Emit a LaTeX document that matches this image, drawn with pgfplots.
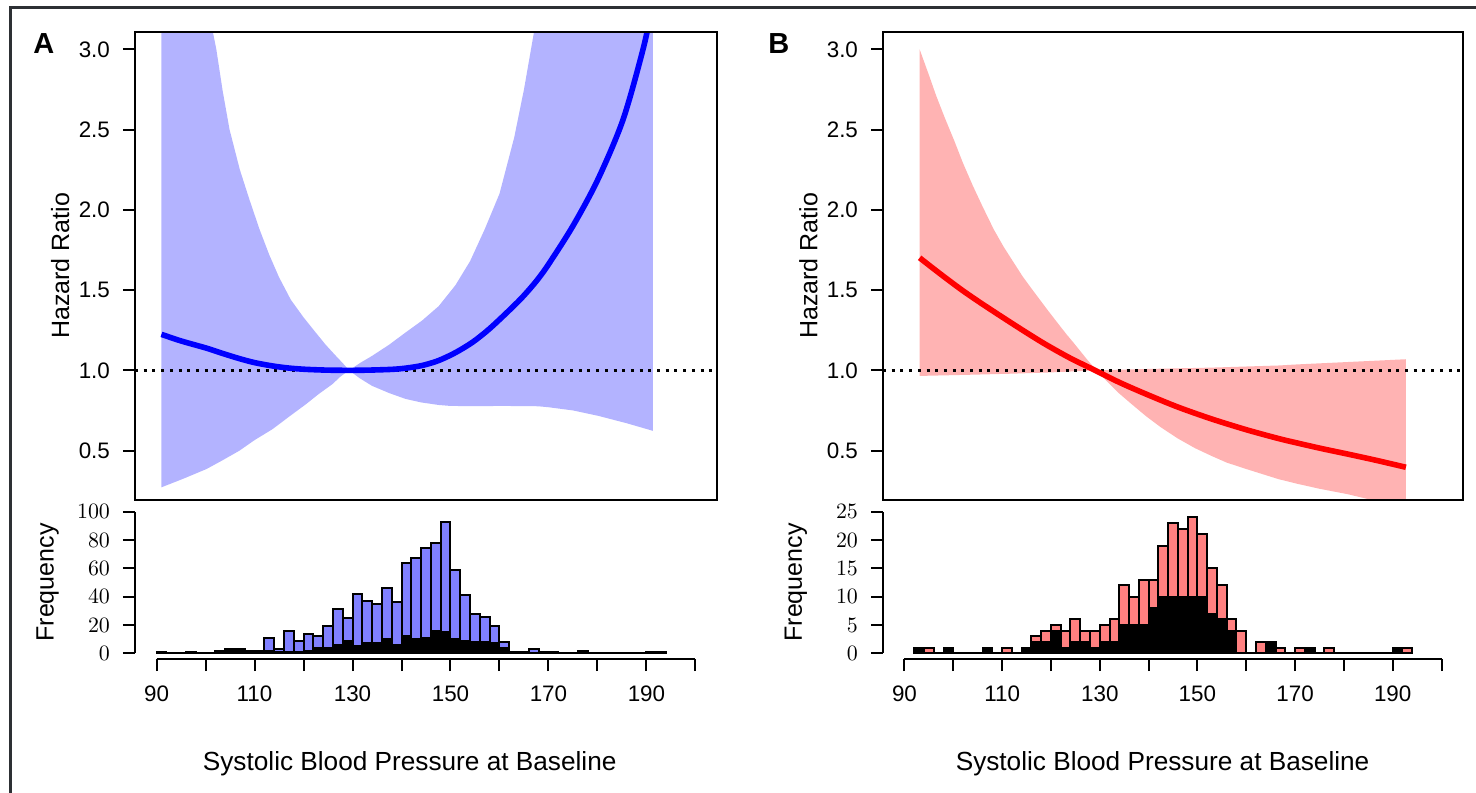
\documentclass[border=0pt]{standalone}
\usepackage{fontspec}
\setmainfont{Liberation Sans}
\usepackage{pgfplots}
\pgfplotsset{compat=1.18}
\definecolor{bandblue}{RGB}{179,179,255}
\definecolor{barblue}{RGB}{128,128,255}
\definecolor{bandred}{RGB}{255,179,179}
\definecolor{barred}{RGB}{255,128,128}
\definecolor{framegray}{RGB}{45,48,52}
\newcommand{\tickfont}{\fontsize{11.2}{13}\selectfont}
\newcommand{\labfont}{\fontsize{12.5}{15}\selectfont}
\newcommand{\xlabfont}{\fontsize{13.1}{15}\selectfont}
\pgfplotsset{
  topax/.style={
    scale only axis, width=291pt, height=234pt,
    xmin=85.6, xmax=204.4, ymin=0.192, ymax=3.108,
    xtick=\empty, ytick={0.5,1.0,1.5,2.0,2.5,3.0},
    yticklabels={0.5,1.0,1.5,2.0,2.5,3.0},
    ytick pos=left, tick align=outside, major tick length=6pt,
    axis line style={line width=1pt, black},
    tick style={line width=1pt, black},
    yticklabel style={font=\tickfont, xshift=-3pt},
    ylabel={Hazard Ratio},
    ylabel style={font=\labfont, at={(axis description cs:-0.112,0.5)}, anchor=south, inner sep=0pt},
    clip=true, axis on top,
  },
  histax/.style={
    scale only axis, width=291pt, height=76.5pt,
    xmin=85.6, xmax=204.4,
    axis line style={draw=none},
    xtick={90,100,...,200},
    xticklabels={90,,110,,130,,150,,170,,190,},
    xtick pos=bottom, ytick pos=left,
    tick align=outside, major tick length=6pt,
    tick style={line width=1pt, black},
    xticklabel style={font=\tickfont, yshift=-4pt},
    yticklabel style={font=\tickfont, xshift=-3pt},
    ylabel={Frequency},
    ylabel style={font=\labfont, at={(axis description cs:-0.14,0.5)}, anchor=base, inner sep=0pt},
    xlabel={Systolic Blood Pressure at Baseline},
    xlabel style={font=\xlabfont, at={(axis description cs:0.472,-0.73)}, anchor=base, inner sep=0pt},
    clip=false,
  },
  refline/.style={black, line width=1.5pt, line cap=butt, dash pattern=on 1.5pt off 2.85pt},
}
\begin{document}
\begin{tikzpicture}[x=1pt,y=1pt]
\useasboundingbox (0,0) rectangle (738,396);
\draw[framegray, line width=1.5pt] (5,-10) -- (5,392) -- (760,392);

% ---------------- Panel A top ----------------
\begin{axis}[topax, at={(67.5pt,146pt)}, anchor=south west]
\addplot[fill=bandblue, draw=none] coordinates {
(91,5.6) (94,4.8) (97,4.1) (100,3.45) (101.5,3.107) (102.2,3.0) (103.5,2.74) (104.9,2.5) (107,2.25)
(109,2.06) (111,1.88) (113,1.72) (115,1.58) (117.4,1.44) (120,1.33) (122.5,1.235)
(124.5,1.16) (126.6,1.09) (128,1.045) (129.3,1.0) (131.5,1.045) (134,1.09) (137.5,1.16)
(140.8,1.235) (144.2,1.31) (147.6,1.40) (151,1.53) (154,1.68) (157,1.88) (160,2.1)
(163,2.45) (165,2.75) (167,3.1) (169,3.5) (172,4.2) (180,6.0) (191.3,9.0)
(191.3,0.623) (186,0.67) (180.2,0.716) (175,0.75) (170,0.77) (167.9,0.776) (161.1,0.778)
(154.4,0.777) (150,0.778) (147.6,0.784) (144,0.80) (140.8,0.822) (137.5,0.858) (134,0.903) (131.5,0.95)
(129.3,1.0) (127.5,0.96) (125.9,0.914) (123,0.85) (120.5,0.789) (117,0.71) (113.7,0.634)
(110,0.565) (106.9,0.499) (103.5,0.44) (100.2,0.385) (95.5,0.325) (91,0.271)
} -- cycle;
\addplot[refline] coordinates {(85.6,1) (204.4,1)};
\addplot[blue, line width=2.8pt, smooth, tension=0.5] coordinates {
(91.0,1.224) (95,1.183) (100.2,1.138) (103.5,1.105) (106.9,1.073) (110,1.048) (113.7,1.027)
(117,1.014) (120.5,1.006) (125,1.001) (129.3,1.0) (133,1.001) (138.1,1.006) (141,1.014)
(144.2,1.03) (147.5,1.06) (151,1.11) (154.5,1.175) (157.7,1.252) (161,1.345) (164.5,1.45)
(167.5,1.555) (170,1.66) (175,1.9) (180.1,2.19) (185.2,2.56) (189.3,3.0) (191.3,3.28)
};
\end{axis}

% ---------------- Panel B top ----------------
\begin{axis}[topax, at={(441.5pt,146pt)}, anchor=south west, width=290pt]
\addplot[fill=bandred, draw=none] coordinates {
(93.1,3.0) (95,2.84) (96.5,2.71) (98.3,2.57) (100.2,2.43) (102,2.29) (104,2.15) (106,2.02) (108.3,1.877)
(110.3,1.77) (112.4,1.67) (114.2,1.585) (116,1.51) (117.6,1.445)
(119.2,1.38) (120.6,1.325) (122,1.27) (123.3,1.22) (124.6,1.173) (126,1.12) (127.6,1.06) (129.3,1.0)
(134,1.004) (139.4,1.008) (153,1.017) (166.6,1.03) (170.6,1.037) (181,1.052) (192.7,1.069)
(192.7,0.15) (186,0.19) (180.8,0.228) (175,0.262) (170.6,0.292) (166.6,0.322) (160,0.385)
(156,0.425) (153,0.465) (149.5,0.515) (146,0.575) (142.5,0.645) (139.4,0.716) (136.5,0.79) (134,0.855)
(131.5,0.93) (129.3,1.0) (120,0.987) (112,0.979) (103,0.972) (93.1,0.965)
} -- cycle;
\addplot[refline] coordinates {(85.6,1) (204.4,1)};
\addplot[red, line width=2.8pt, smooth, tension=0.5] coordinates {
(93.1,1.701) (96,1.632) (98.8,1.567) (102,1.495) (105.5,1.422) (109,1.352) (112.3,1.287)
(115.5,1.225) (119.1,1.158) (124,1.075) (129.3,0.996) (134,0.925) (139.4,0.853) (146,0.771)
(153,0.696) (160,0.63) (166.6,0.575) (170.6,0.546) (175.5,0.512) (180.8,0.478)
(186.5,0.44) (192.7,0.396)
};
\end{axis}

% ---------------- Panel A histogram ----------------
\begin{axis}[histax, at={(67.5pt,66.5pt)}, anchor=south west,
  ymin=-4, ymax=104, ytick={0,20,40,60,80,100}]
\addplot[ybar interval, fill=barblue, draw=black, line width=1pt] coordinates {
(90,1) (92,0) (94,0) (96,1) (98,0) (100,0) (102,2) (104,3) (106,3) (108,2) (110,2)
(112,11) (114,3) (116,16) (118,9) (120,14) (122,12) (124,19) (126,31) (128,25)
(130,42) (132,37) (134,35) (136,46) (138,36) (140,64) (142,67) (144,74) (146,78)
(148,93) (150,59) (152,41) (154,28) (156,26) (158,19) (160,8) (162,1) (164,1)
(166,3) (168,1) (170,1) (172,0) (174,0) (176,2) (178,0) (180,0) (182,0) (184,0)
(186,0) (188,0) (190,1) (192,1) (194,0)
};
\addplot[ybar interval, fill=black, draw=black, line width=1pt] coordinates {
(90,1) (92,0) (94,0) (96,1) (98,0) (100,0) (102,1) (104,3) (106,3) (108,0) (110,0)
(112,2) (114,1) (116,1) (118,1) (120,2) (122,4) (124,4) (126,6) (128,9)
(130,5) (132,7) (134,7) (136,10) (138,6) (140,12) (142,10) (144,11) (146,16)
(148,15) (150,10) (152,9) (154,8) (156,8) (158,7) (160,4) (162,1) (164,0)
(166,0) (168,1) (170,1) (172,0) (174,0) (176,2) (178,0) (180,0) (182,0) (184,0)
(186,0) (188,0) (190,1) (192,1) (194,0)
};
\draw[line width=1pt] (axis cs:90,-4) -- (axis cs:200,-4);
\draw[line width=1pt] (axis cs:85.6,0) -- (axis cs:85.6,100);
\end{axis}

% ---------------- Panel B histogram ----------------
\begin{axis}[histax, at={(441.5pt,66.5pt)}, anchor=south west, width=290pt,
  ymin=-1, ymax=26, ytick={0,5,10,15,20,25},
  xlabel style={at={(axis description cs:0.482,-0.73)}}]
\addplot[ybar interval, fill=barred, draw=black, line width=1pt] coordinates {
(92,1) (94,1) (96,0) (98,1) (100,0) (102,0) (104,0) (106,1) (108,0) (110,1) (112,0)
(114,1) (116,3) (118,4) (120,5) (122,4) (124,6) (126,4) (128,4) (130,5) (132,6)
(134,12) (136,10) (138,13) (140,13) (142,19) (144,23) (146,22) (148,24) (150,21)
(152,15) (154,12) (156,6) (158,4) (160,0) (162,2) (164,2) (166,1) (168,0) (170,1)
(172,1) (174,0) (176,1) (178,0) (180,0) (182,0) (184,0) (186,0) (188,0) (190,1)
(192,1) (194,0)
};
\addplot[ybar interval, fill=black, draw=black, line width=1pt] coordinates {
(92,1) (94,0) (96,0) (98,1) (100,0) (102,0) (104,0) (106,1) (108,0) (110,0) (112,0)
(114,1) (116,2) (118,2) (120,4) (122,1) (124,2) (126,2) (128,1) (130,2) (132,2)
(134,5) (136,5) (138,5) (140,8) (142,10) (144,10) (146,10) (148,10) (150,10)
(152,7) (154,6) (156,4) (158,0) (160,0) (162,0) (164,2) (166,0) (168,0) (170,0)
(172,1) (174,0) (176,0) (178,0) (180,0) (182,0) (184,0) (186,0) (188,0) (190,1)
(192,0) (194,0)
};
\draw[line width=1pt] (axis cs:90,-1) -- (axis cs:200,-1);
\draw[line width=1pt] (axis cs:85.6,0) -- (axis cs:85.6,25);
\end{axis}

\node[font=\fontsize{14.5}{16}\bfseries, anchor=base west, inner sep=0pt] at (16.5,369) {A};
\node[font=\fontsize{14.5}{16}\bfseries, anchor=base west, inner sep=0pt] at (384,369) {B};
\end{tikzpicture}
\end{document}
